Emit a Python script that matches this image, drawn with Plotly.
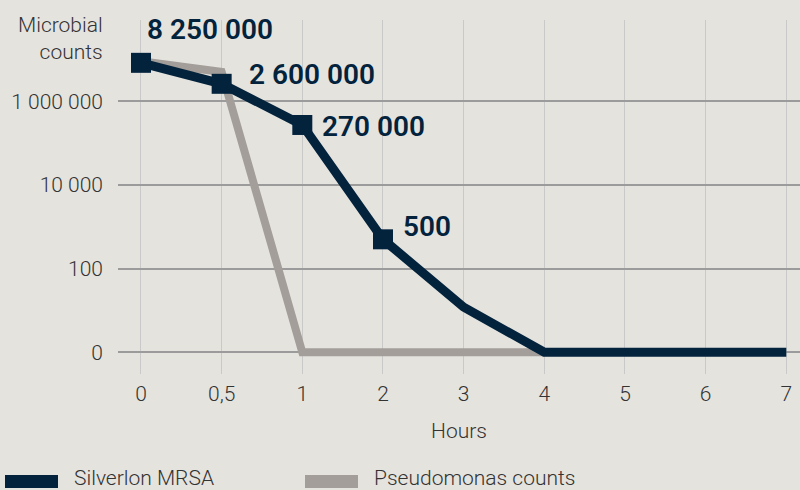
import math
import plotly.graph_objects as go

hours = ["0", "0,5", "1", "2", "3", "4", "5", "6", "7"]
mrsa = [8250000, 2600000, 270000, 500, 12, 1, 1, 1, 1]
pseudo_hours = ["0", "0,5", "1", "2", "3", "4"]
pseudo = [9000000, 5000000, 1, 1, 1, 1]
labels = ["8 250 000", "2 600 000", "270 000", "500"]
label_vals = [8250000, 2600000, 270000, 500]
ytick_vals = [1, 100, 10000, 1000000]
ytick_text = ["0", "100", "10 000", "1 000 000"]

NAVY = "#03233d"
GRAY = "#a39e99"
BG = "#e5e3de"
TXT = "#333333"
FONT = "Roboto"

# plot-area geometry in pixels (for paper-positioned extras)
L, R, T, B, W, H = 118, 0, 20, 116, 800, 490
PW, PH = W - L - R, H - T - B


def px_x(px):
    return (px - L) / PW


def px_y(py):
    return (H - B - py) / PH


fig = go.Figure()
fig.add_trace(go.Scatter(
    x=pseudo_hours, y=pseudo, mode="lines", name="Pseudomonas counts",
    line=dict(color=GRAY, width=8), showlegend=False, hoverinfo="skip"))
fig.add_trace(go.Scatter(
    x=hours, y=mrsa, mode="lines+markers", name="Silverlon MRSA",
    line=dict(color=NAVY, width=9),
    marker=dict(symbol="square", size=[20, 20, 20, 20, 0, 0, 0, 0, 0], color=NAVY,
                opacity=1, line=dict(width=0)),
    showlegend=False))

shifts = [(4, 33), (25, 9), (18, -2), (18, 13)]
for i, (txt, v, (dx, dy)) in enumerate(zip(labels, label_vals, shifts)):
    fig.add_annotation(x=i, y=math.log10(v), text=txt, showarrow=False,
                       xanchor="left", yanchor="middle", xshift=dx, yshift=dy,
                       font=dict(family=FONT, size=28, color=NAVY, weight=600))

fig.add_annotation(xref="paper", yref="paper", x=px_x(105), y=px_y(38.5),
                   xanchor="right", yanchor="middle", text="Microbial<br>counts",
                   showarrow=False, align="right",
                   font=dict(family=FONT, size=21, color=TXT, weight=300))

legend_items = [("Silverlon MRSA", NAVY, 5), ("Pseudomonas counts", GRAY, 305)]
for name, col, x0 in legend_items:
    fig.add_shape(type="rect", xref="paper", yref="paper",
                  x0=px_x(x0), x1=px_x(x0 + 53), y0=px_y(488), y1=px_y(475),
                  fillcolor=col, line=dict(width=0), layer="above")
    fig.add_annotation(xref="paper", yref="paper", x=px_x(x0 + 67), y=px_y(478),
                       xanchor="left", yanchor="middle", text=name, showarrow=False,
                       font=dict(family=FONT, size=21, color=TXT, weight=300))

fig.update_layout(
    width=W, height=H,
    paper_bgcolor=BG, plot_bgcolor=BG,
    margin=dict(l=L, r=R, t=T, b=B),
    showlegend=False,
    font=dict(family=FONT, color=TXT),
    xaxis=dict(type="category", categoryorder="array", categoryarray=hours,
               range=[-0.285, 8.17], showgrid=True, gridcolor="#c9c9c9", gridwidth=1,
               zeroline=False, showline=False, ticks="outside", ticklen=1,
               tickcolor="rgba(0,0,0,0)",
               tickfont=dict(family=FONT, size=21, color=TXT, weight=300),
               title=dict(text="Hours", standoff=18,
                          font=dict(family=FONT, size=21, color=TXT, weight=300))),
    yaxis=dict(type="log", range=[-0.52, 7.94], tickvals=ytick_vals, ticktext=ytick_text,
               showgrid=True, gridcolor="#9b9b9b", gridwidth=2, zeroline=False,
               showline=False, ticks="", ticklabelstandoff=14,
               tickfont=dict(family=FONT, size=21, color=TXT, weight=300)),
)

fig.write_html("out.html", config={"displayModeBar": False},
               post_script="document.body.style.margin='0';document.body.style.overflow='hidden';")
